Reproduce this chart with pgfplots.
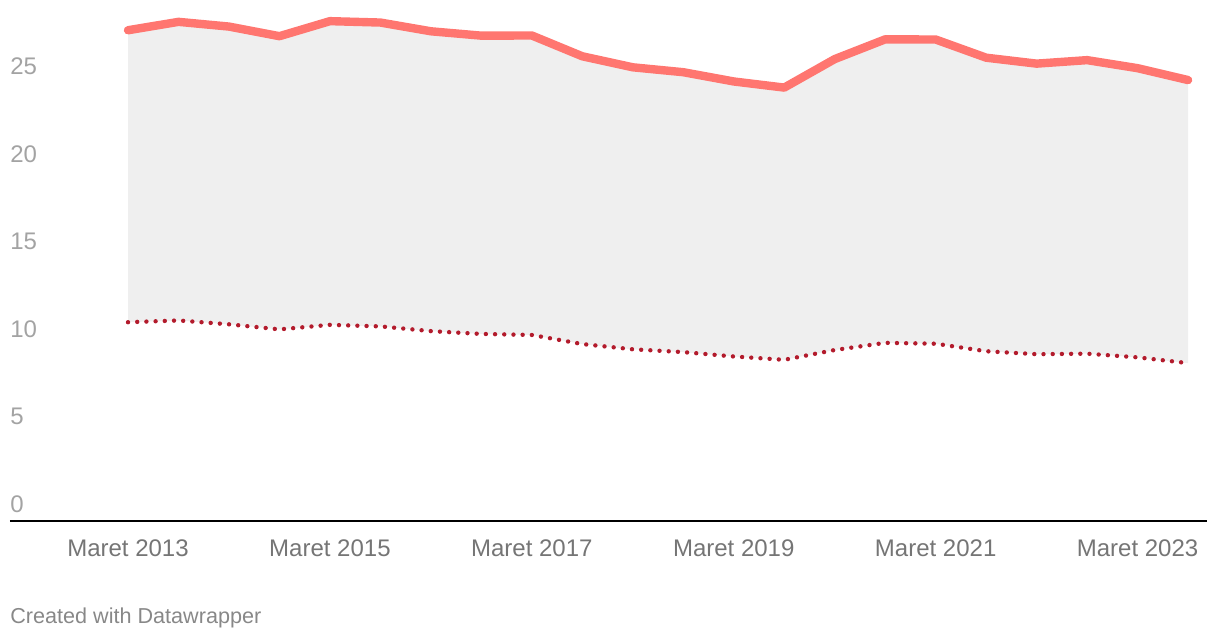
\documentclass[border=0pt]{standalone}
\usepackage{fontspec}
\setmainfont{Liberation Sans}
\usepackage{pgfplots}
\pgfplotsset{compat=1.18}
\definecolor{upc}{RGB}{255,118,112}
\definecolor{loc}{RGB}{179,27,44}
\definecolor{fillc}{RGB}{239,239,239}
\definecolor{ylab}{RGB}{163,163,163}
\definecolor{xlab}{RGB}{117,117,117}
\definecolor{cred}{RGB}{136,136,136}
\begin{document}
\begin{tikzpicture}
\begin{axis}[
  at={(5pt,58.5pt)}, anchor=south west,
  scale only axis, width=598.5pt, height=260.5pt,
  xmin=-2.338, xmax=21.375, ymin=0, ymax=29.8,
  clip=false,
  axis x line=bottom, axis y line*=left,
  axis line style={-, black, line width=1pt},
  y axis line style={draw=none},
  xtick={0,4,8,12,16,20},
  xticklabels={Maret 2013,Maret 2015,Maret 2017,Maret 2019,Maret 2021,Maret 2023},
  major tick length=0pt,
  xticklabel style={anchor=base, inner sep=0pt, yshift=-17.5pt, text=xlab, font=\fontsize{12}{14}\selectfont},
  ytick={0,5,10,15,20,25},
  yticklabel style={anchor=base west, inner sep=0pt, yshift=4.5pt, text=ylab, font=\fontsize{12}{14}\selectfont},
  /pgf/number format/assume math mode=true,
]
\addplot[fill=fillc, draw=none] coordinates {
(0,28.07) (1,28.55) (2,28.28) (3,27.73) (4,28.59) (5,28.51) (6,28.01) (7,27.76)
(8,27.77) (9,26.58) (10,25.95) (11,25.67) (12,25.14) (13,24.79) (14,26.42) (15,27.55)
(16,27.54) (17,26.50) (18,26.16) (19,26.36) (20,25.90) (21,25.22)
(21,9.03) (20,9.36) (19,9.57) (18,9.54) (17,9.71) (16,10.14) (15,10.19) (14,9.78)
(13,9.22) (12,9.41) (11,9.66) (10,9.82) (9,10.12) (8,10.64) (7,10.70) (6,10.86)
(5,11.13) (4,11.22) (3,10.96) (2,11.25) (1,11.47) (0,11.37)} -- cycle;
\addplot[loc, line width=2.2pt, line cap=round, dash pattern=on 0pt off 4.6pt] coordinates {
(0,11.37) (1,11.47) (2,11.25) (3,10.96) (4,11.22) (5,11.13) (6,10.86) (7,10.70)
(8,10.64) (9,10.12) (10,9.82) (11,9.66) (12,9.41) (13,9.22) (14,9.78) (15,10.19)
(16,10.14) (17,9.71) (18,9.54) (19,9.57) (20,9.36) (21,9.03)};
\addplot[upc, line width=4.2pt, line cap=round, line join=round] coordinates {
(0,28.07) (1,28.55) (2,28.28) (3,27.73) (4,28.59) (5,28.51) (6,28.01) (7,27.76)
(8,27.77) (9,26.58) (10,25.95) (11,25.67) (12,25.14) (13,24.79) (14,26.42) (15,27.55)
(16,27.54) (17,26.50) (18,26.16) (19,26.36) (20,25.90) (21,25.22)};
\end{axis}
\node[anchor=base west, inner sep=0pt, text=cred, font=\fontsize{10.8}{13}\selectfont] at (5pt,7.5pt) {Created with Datawrapper};
\path (0,0) rectangle (610pt,319pt);
\end{tikzpicture}
\end{document}
